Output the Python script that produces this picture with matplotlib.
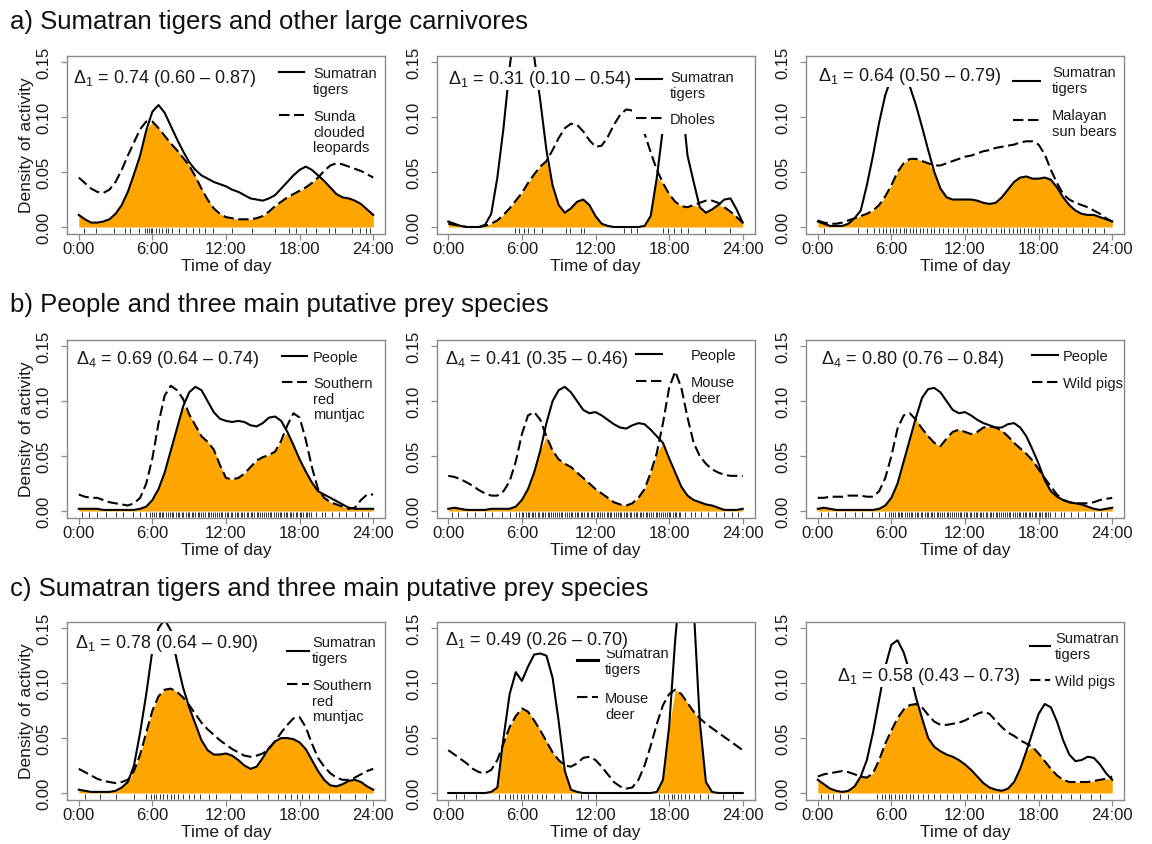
import numpy as np
import matplotlib.pyplot as plt
from matplotlib.patches import Rectangle

plt.rcParams['font.family'] = ['Liberation Sans', 'DejaVu Sans']
plt.rcParams['mathtext.fontset'] = 'custom'
plt.rcParams['mathtext.rm'] = 'Liberation Sans'
plt.rcParams['mathtext.default'] = 'regular'

# half-hour grid, time of day
hours = np.arange(0, 24.5, 0.5)

# ---- row a: tigers vs other carnivores
a1_tiger = [.011, .007, .004, .004, .005, .007, .012, .020, .032, .048, .065, .088,
            .105, .111, .104, .092, .080, .069, .059, .052, .047, .044, .041, .039,
            .037, .034, .032, .029, .026, .025, .024, .026, .029, .035, .041, .047,
            .052, .055, .052, .047, .042, .036, .030, .027, .026, .024, .021, .016,
            .011]
a1_leopard = [.045, .040, .035, .032, .031, .034, .041, .052, .065, .077, .089, .096,
              .096, .090, .083, .076, .070, .063, .056, .046, .035, .025, .017, .012,
              .009, .008, .007, .007, .007, .008, .010, .014, .019, .023, .027, .030,
              .033, .036, .040, .045, .051, .056, .058, .057, .055, .053, .051, .048,
              .045]
a2_tiger = [.005, .003, .001, 0, 0, 0, .002, .012, .045, .090, .145, .190,
            .220, .220, .155, .115, .070, .038, .020, .013, .017, .023, .025, .020,
            .010, .003, .001, 0, 0, 0, 0, 0, .001, .010, .045, .090,
            .140, .160, .120, .065, .041, .018, .013, .016, .020, .025, .026, .016,
            .004]
a2_dhole = [.003, .002, .001, 0, 0, 0, .001, .003, .006, .011, .017, .024,
            .031, .040, .048, .055, .060, .070, .081, .090, .094, .093, .087, .079,
            .073, .074, .082, .093, .102, .107, .106, .098, .085, .068, .052, .040,
            .030, .023, .019, .018, .020, .022, .024, .024, .022, .018, .014, .009,
            .004]
a3_tiger = [.005, .003, .001, .001, .001, .003, .008, .015, .038, .065, .095, .120,
            .136, .142, .140, .128, .111, .091, .070, .050, .035, .027, .025, .025,
            .025, .025, .024, .022, .021, .022, .027, .034, .041, .045, .046, .044,
            .044, .045, .043, .036, .027, .020, .015, .012, .011, .011, .009, .007,
            .005]
a3_bear = [.006, .004, .003, .003, .004, .006, .008, .010, .012, .015, .020, .028,
           .038, .050, .058, .062, .062, .060, .058, .056, .056, .058, .060, .062,
           .064, .065, .067, .069, .070, .072, .073, .074, .075, .077, .078, .078,
           .075, .066, .052, .040, .030, .025, .022, .020, .018, .015, .012, .008,
           .005]

# ---- row b: people vs prey
b1_people = [.002, .002, .002, .002, .001, .001, .001, .001, .001, .001, .002, .004,
             .010, .020, .035, .055, .075, .095, .108, .113, .110, .100, .090, .084,
             .082, .081, .082, .081, .078, .077, .080, .085, .086, .082, .072, .060,
             .047, .036, .026, .018, .015, .012, .009, .006, .003, .002, .002, .002,
             .002]
b1_muntjac = [.015, .013, .012, .012, .010, .008, .007, .006, .005, .007, .012, .025,
              .048, .080, .105, .114, .110, .102, .088, .078, .068, .063, .056, .042,
              .030, .029, .030, .034, .040, .046, .049, .051, .054, .064, .078, .089,
              .085, .065, .040, .020, .012, .008, .006, .004, .002, .003, .010, .015,
              .015]
b2_people = [.002, .003, .002, .001, .001, .001, .001, .002, .002, .002, .002, .004,
             .010, .020, .035, .055, .080, .100, .110, .113, .108, .100, .092, .089,
             .090, .087, .083, .079, .076, .075, .078, .080, .079, .074, .068, .062,
             .048, .035, .022, .014, .010, .008, .006, .005, .003, .001, .001, .001,
             .002]
b2_deer = [.032, .031, .029, .026, .023, .019, .016, .014, .014, .018, .027, .045,
           .070, .087, .090, .083, .068, .055, .047, .043, .040, .035, .030, .025,
           .020, .016, .012, .008, .006, .005, .007, .012, .020, .035, .053, .080,
           .112, .127, .112, .085, .062, .050, .043, .038, .035, .033, .032, .032,
           .032]
b3_people = [.002, .003, .002, .001, .001, .001, .001, .001, .001, .001, .002, .005,
             .012, .025, .045, .065, .085, .103, .111, .112, .108, .100, .092, .089,
             .090, .087, .083, .080, .078, .076, .076, .079, .080, .076, .068, .056,
             .043, .028, .018, .013, .010, .008, .007, .006, .004, .002, .001, .002,
             .003]
b3_pigs = [.012, .012, .013, .013, .013, .014, .014, .014, .013, .013, .018, .030,
           .050, .075, .087, .089, .083, .075, .068, .062, .059, .066, .072, .074,
           .072, .070, .072, .076, .077, .076, .073, .068, .062, .057, .052, .046,
           .038, .030, .022, .015, .010, .008, .007, .007, .007, .008, .010, .011,
           .012]

# ---- row c: tigers vs prey
c1_tiger = [.003, .002, .001, .001, .001, .001, .002, .005, .010, .025, .055, .090,
            .130, .150, .158, .148, .120, .096, .078, .063, .048, .039, .035, .035,
            .036, .034, .030, .025, .022, .024, .032, .041, .047, .050, .050, .049,
            .046, .040, .030, .020, .012, .007, .006, .008, .011, .012, .010, .006,
            .003]
c1_muntjac = [.022, .019, .016, .013, .011, .010, .009, .010, .012, .020, .035, .055,
              .075, .088, .094, .095, .092, .087, .080, .072, .064, .058, .053, .048,
              .044, .040, .037, .034, .033, .034, .036, .040, .047, .055, .062, .068,
              .069, .060, .045, .032, .024, .018, .014, .012, .012, .014, .017, .020,
              .022]
c2_tiger = [0, 0, 0, 0, 0, 0, 0, .001, .005, .050, .090, .110,
            .102, .115, .126, .127, .125, .105, .065, .020, .003, .001, 0, 0,
            0, 0, 0, 0, 0, 0, 0, 0, 0, 0, .001, .012,
            .060, .140, .200, .220, .170, .065, .010, .001, 0, 0, 0, 0,
            0]
c2_deer = [.039, .035, .031, .027, .022, .019, .018, .021, .030, .045, .060, .070,
           .077, .074, .066, .057, .047, .037, .030, .025, .024, .027, .032, .033,
           .030, .024, .017, .010, .006, .004, .005, .012, .025, .043, .063, .080,
           .090, .094, .090, .082, .074, .068, .063, .059, .055, .051, .047, .043,
           .039]
c3_tiger = [.012, .008, .004, .002, .001, .002, .006, .015, .030, .055, .085, .115,
            .135, .139, .128, .110, .087, .068, .050, .042, .038, .035, .033, .030,
            .026, .021, .015, .009, .005, .003, .002, .004, .010, .022, .038, .055,
            .072, .081, .078, .065, .048, .035, .029, .030, .033, .032, .026, .018,
            .012]
c3_pigs = [.015, .017, .018, .019, .020, .019, .017, .015, .014, .018, .030, .045,
           .057, .068, .076, .080, .081, .078, .071, .065, .062, .062, .063, .064,
           .066, .069, .072, .074, .072, .066, .060, .055, .052, .048, .045, .042,
           .036, .029, .022, .016, .012, .010, .010, .010, .010, .011, .012, .013,
           .015]

# detection times (rug)
a1_rug = [0.4, 1.4, 2.9, 3.8, 4.2, 4.9, 5.4, 5.6, 5.7, 5.9, 6.0, 6.3, 6.5, 6.8, 7.1, 7.3,
          7.6, 8.2, 8.7, 9.3, 9.8, 10.3, 10.9, 12.5, 14.1, 16.0, 17.1, 17.7, 18.5, 19.3,
          20.4, 20.9, 22.3, 22.9, 23.4, 23.7]
a2_rug = [5.4, 5.8, 6.2, 6.5, 7.0, 7.6, 9.6, 9.9, 10.8, 11.1, 14.3, 14.9, 15.4, 17.5,
          17.9, 18.4, 19.0, 19.5, 20.9, 23.0]
a3_rug = [0.5, 3.3, 4.0, 4.6, 5.0, 5.3, 5.6, 5.9, 6.1, 6.4, 6.7, 7.0, 7.2, 7.5, 7.8, 8.0,
          8.3, 8.6, 8.9, 9.2, 9.5, 9.9, 10.2, 10.6, 11.0, 11.4, 11.8, 12.2, 12.6, 13.0,
          13.3, 13.7, 14.1, 14.5, 14.9, 15.2, 15.6, 15.9, 16.2, 16.5, 16.8, 17.1, 17.4,
          17.7, 18.0, 18.3, 18.7, 19.1, 19.6, 20.2, 20.8, 21.5, 22.0, 22.6, 23.3]
b_rug = [0.3, 0.8, 1.5, 2.2, 3.0, 3.6, 4.4, 5.0, 5.5, 5.8,
         6.0, 6.1, 6.3, 6.5, 6.6, 6.8, 6.9, 7.1, 7.3, 7.4, 7.6, 7.7, 7.9, 8.1, 8.2,
         8.4, 8.5, 8.7, 8.9, 9.0, 9.2, 9.3, 9.5, 9.7, 9.8, 10.0, 10.1, 10.3, 10.5,
         10.6, 10.8, 10.9, 11.1, 11.3, 11.4, 11.6, 11.7, 11.9, 12.1, 12.2, 12.4, 12.5,
         12.7, 12.9, 13.0, 13.2, 13.3, 13.5, 13.7, 13.8, 14.0, 14.1, 14.3, 14.5, 14.6,
         14.8, 14.9, 15.1, 15.3, 15.4, 15.6, 15.7, 15.9, 16.1, 16.2, 16.4, 16.5, 16.7,
         16.9, 17.0, 17.2, 17.3, 17.5, 17.7, 17.8, 18.0, 18.1, 18.3, 18.5, 18.6, 18.8,
         18.9, 19.3, 19.8, 20.1, 20.6, 21.2, 21.8, 22.5, 23.1, 23.6]
c1_rug = [0.5, 1.7, 3.0, 4.5, 5.5, 5.9, 6.1, 6.3, 6.6, 6.9, 7.2, 7.5, 7.8, 8.1, 8.5, 9.0,
          9.4, 9.9, 10.6, 11.2, 12.3, 13.2, 14.5, 15.4, 16.2, 16.8, 17.3, 17.8, 18.2,
          18.8, 19.5, 20.4, 21.3, 22.5, 23.4]
c2_rug = [0.6, 1.3, 2.3, 4.1, 4.6, 5.0, 5.3, 5.6, 5.9, 6.2, 6.5, 6.8, 7.2, 7.6, 8.0, 8.6,
          9.2, 10.0, 10.8, 11.4, 12.0, 17.2, 17.6, 17.9, 18.2, 18.4, 18.7, 19.0, 19.3,
          19.6, 20.0, 20.5, 21.2, 22.4, 23.2]
c3_rug = [0.3, 0.8, 1.2, 1.8, 2.5, 4.8, 5.2, 5.5, 5.8, 6.0, 6.3, 6.6, 6.9, 7.2, 7.5, 7.8,
          8.2, 8.6, 9.0, 9.5, 10.0, 10.5, 11.0, 11.6, 12.2, 12.8, 13.3, 13.7, 14.2, 14.8,
          15.5, 16.3, 17.0, 17.6, 18.2, 18.6, 19.1, 19.8, 20.6, 21.4, 22.3, 23.0]

section_titles = ["a) Sumatran tigers and other large carnivores",
                  "b) People and three main putative prey species",
                  "c) Sumatran tigers and three main putative prey species"]

deltas = ["Δ$_{1}$ = 0.74 (0.60 – 0.87)", "Δ$_{1}$ = 0.31 (0.10 – 0.54)",
          "Δ$_{1}$ = 0.64 (0.50 – 0.79)",
          "Δ$_{4}$ = 0.69 (0.64 – 0.74)", "Δ$_{4}$ = 0.41 (0.35 – 0.46)",
          "Δ$_{4}$ = 0.80 (0.76 – 0.84)",
          "Δ$_{1}$ = 0.78 (0.64 – 0.90)", "Δ$_{1}$ = 0.49 (0.26 – 0.70)",
          "Δ$_{1}$ = 0.58 (0.43 – 0.73)"]

names = [("Sumatran\ntigers", "Sunda\nclouded\nleopards"),
         ("Sumatran\ntigers", "Dholes"),
         ("Sumatran\ntigers", "Malayan\nsun bears"),
         ("People", "Southern\nred\nmuntjac"),
         ("People", "Mouse\ndeer"),
         ("People", "Wild pigs"),
         ("Sumatran\ntigers", "Southern\nred\nmuntjac"),
         ("Sumatran\ntigers", "Mouse\ndeer"),
         ("Sumatran\ntigers", "Wild pigs")]

curves = [(a1_tiger, a1_leopard, a1_rug), (a2_tiger, a2_dhole, a2_rug),
          (a3_tiger, a3_bear, a3_rug),
          (b1_people, b1_muntjac, b_rug), (b2_people, b2_deer, b_rug),
          (b3_people, b3_pigs, b_rug),
          (c1_tiger, c1_muntjac, c1_rug), (c2_tiger, c2_deer, c2_rug),
          (c3_tiger, c3_pigs, c3_rug)]

# layout: delta text position (data) and legend geometry (axes fraction)
delta_pos = [(-0.5, 0.136), (-0.05, 0.135), (0.0, 0.138),
             (-0.25, 0.139), (-0.3, 0.139), (0.3, 0.139),
             (-0.3, 0.137), (-0.25, 0.140), (1.55, 0.107)]
# x0, x1, xtext, line1 y, text1 top, line2 y, text2 top
legend_geo = [(0.667, 0.745, 0.774, 0.908, 0.942, 0.666, 0.700),
              (0.627, 0.709, 0.734, 0.869, 0.919, 0.649, 0.683),
              (0.651, 0.736, 0.774, 0.857, 0.947, 0.638, 0.706),
              (0.676, 0.755, 0.774, 0.908, 0.942, 0.762, 0.796),
              (0.627, 0.709, 0.800, 0.919, 0.953, 0.767, 0.801),
              (0.711, 0.792, 0.808, 0.913, 0.947, 0.762, 0.796),
              (0.692, 0.761, 0.770, 0.835, 0.925, 0.649, 0.683),
              (0.442, 0.508, 0.530, 0.784, 0.863, 0.576, 0.610),
              (0.704, 0.767, 0.783, 0.861, 0.947, 0.672, 0.706)]

ORANGE = '#FFA500'
GREY = '#8a8a8a'
DASH = (5, 2.2)

fig = plt.figure(figsize=(11.52, 8.45), dpi=100)
W, H = 1152, 845
col_left = [67, 436.5, 806]
row_bottom = [234.6, 518.6, 800.6]
axw, axh = 318, 178
title_base = [29, 312, 596]

for r in range(3):
    fig.text(10 / W, 1 - title_base[r] / H, section_titles[r], fontsize=18.5,
             va='baseline', ha='left', color='#111111')
    for c in range(3):
        i = r * 3 + c
        ax = fig.add_axes([col_left[c] / W, 1 - row_bottom[r] / H, axw / W, axh / H])
        s1, s2, rug = curves[i]
        s1 = np.array(s1)
        s2 = np.array(s2)
        ax.fill_between(hours, 0, np.minimum(s1, s2), color=ORANGE, lw=0, zorder=1)
        ax.plot(hours, s1, color='black', lw=1.5, zorder=2)
        ax.plot(hours, s2, color='black', lw=1.5, dashes=DASH, zorder=2)
        ax.vlines(rug, -0.0055, -0.0008, color='#333333', lw=0.7, zorder=2)

        ax.set_xlim(-0.96, 24.96)
        ax.set_ylim(-0.006, 0.156)
        ax.set_xticks([0, 6, 12, 18, 24])
        ax.set_xticklabels(['0:00', '6:00', '12:00', '18:00', '24:00'])
        ax.set_yticks([0, 0.05, 0.10, 0.15])
        ax.set_yticklabels(['0.00', '0.05', '0.10', '0.15'], rotation=90, va='center')
        for sp in ax.spines.values():
            sp.set_color(GREY)
            sp.set_linewidth(1.0)
            sp.set_zorder(6)
        ax.tick_params(axis='both', direction='out', length=4, width=0.9,
                       color=GREY, labelsize=12, labelcolor='#1a1a1a')
        ax.tick_params(axis='x', pad=1.5)
        ax.tick_params(axis='y', pad=7)
        ax.set_xlabel('Time of day', fontsize=12.5, labelpad=1.5, color='#1a1a1a')
        if c == 0:
            ax.set_ylabel('Density of activity', fontsize=12.5, labelpad=2,
                          color='#1a1a1a')

        # legend
        x0, x1, xt, l1, t1, l2, t2 = legend_geo[i]
        if i == 1:
            ax.add_patch(Rectangle((0.615, 0.56), 0.385, 0.44, transform=ax.transAxes,
                                   facecolor='white', edgecolor='none', zorder=3))
        ax.plot([x0, x1], [l1, l1], transform=ax.transAxes, color='black',
                lw=2.2 if i == 7 else 1.5, zorder=4)
        ax.plot([x0, x1], [l2, l2], transform=ax.transAxes, color='black', lw=1.5,
                dashes=DASH, zorder=4)
        ax.text(xt, t1, names[i][0], transform=ax.transAxes, fontsize=10.5,
                va='top', ha='left', linespacing=1.15, color='#1a1a1a', zorder=4)
        ax.text(xt, t2, names[i][1], transform=ax.transAxes, fontsize=10.5,
                va='top', ha='left', linespacing=1.15, color='#1a1a1a', zorder=4)

        dx, dy = delta_pos[i]
        ax.text(dx, dy, deltas[i], fontsize=13, va='center', ha='left',
                color='#1a1a1a', zorder=5,
                bbox=dict(facecolor='white', edgecolor='none', pad=0.5))

fig.savefig('out.png', dpi=100)
